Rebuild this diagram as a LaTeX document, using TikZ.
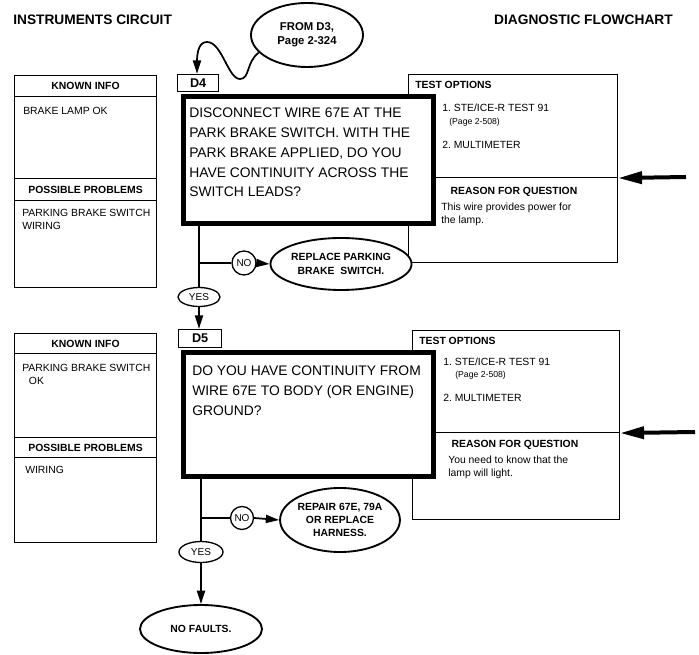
\documentclass[tikz,border=0pt]{standalone}
\usepackage{fontspec}
\setmainfont{Liberation Sans}
\usetikzlibrary{arrows.meta,shapes.geometric,positioning}
\newlength{\px}\setlength{\px}{0.75pt}
\tikzset{
  titletxt/.style={font=\fontsize{10.3}{12}\selectfont\bfseries, inner sep=0},
  smalltxt/.style={font=\fontsize{7.8}{9.6}\selectfont, inner sep=0, align=left},
  smallbold/.style={font=\fontsize{7.8}{9.6}\selectfont\bfseries, inner sep=0},
  tinytxt/.style={font=\fontsize{6.5}{7.5}\selectfont, inner sep=0},
  qtxt/.style={font=\fontsize{10.4}{14.8}\selectfont, inner sep=0, align=left, anchor=north west},
  infobox/.style={draw, line width=0.8pt, minimum width=142\px, inner sep=0, anchor=north west, font=\fontsize{7.8}{9.6}\selectfont\bfseries},
  testbox/.style={draw, line width=0.8pt, inner sep=0, anchor=north west},
  qbox/.style={draw, line width=5\px, fill=white, inner sep=0, anchor=north west, minimum width=250\px},
  dlabel/.style={draw, line width=0.9pt, fill=white, inner sep=0, anchor=south west, minimum height=17\px, font=\fontsize{9.5}{11}\selectfont\bfseries},
  ansnode/.style={draw, line width=1pt, fill=white, inner sep=0, font=\fontsize{7.5}{9}\selectfont},
  endnode/.style={draw, ellipse, line width=1.4pt, fill=white, inner sep=0, align=center, font=\fontsize{7.8}{10}\selectfont\bfseries},
  flow/.style={line width=1.3pt},
  flowarrow/.style={flow, -{Triangle[length=10pt,width=6pt]}},
  sidearrow/.style={line width=3pt, -{Triangle[length=18pt,width=9pt]}}
}
\begin{document}
\begin{tikzpicture}[x=1\px, y=-1\px]
  \useasboundingbox (0,0) rectangle (699,655);

  % Titles
  \node[titletxt, anchor=west] (ttl) at (13,20) {INSTRUMENTS CIRCUIT};
  \node[titletxt, anchor=east] (ttr) at (673,20) {DIAGNOSTIC FLOWCHART};

  % Entry from D3
  \node[endnode, minimum width=112\px, minimum height=64\px, font=\fontsize{8.5}{10.5}\selectfont\bfseries] (from) at (307,35) {FROM D3,\\Page 2-324};

  % Known info D4
  \node[infobox, minimum height=21\px] (ki4) at (14,75) {KNOWN INFO};
  \node[infobox, minimum height=82\px] (kb4) at (14,96) {};
  \node[infobox, minimum height=22\px] (pp4) at (14,178) {POSSIBLE PROBLEMS};
  \node[infobox, minimum height=87\px] (pb4) at (14,200) {};
  \node[smalltxt, anchor=west] (kt4) at (23,111) {BRAKE LAMP OK};
  \node[smalltxt, anchor=north west] (pt4) at (22,209) {PARKING BRAKE SWITCH\\WIRING};

  % Test options D4
  \node[testbox, minimum width=209\px, minimum height=103\px] (to4) at (408,74) {};
  \node[testbox, minimum width=209\px, minimum height=85\px] (rq4) at (408,177) {};
  \node[smallbold, anchor=west] (th4) at (415,85) {TEST OPTIONS};
  \node[smalltxt, anchor=west] (t41) at (442,108) {1.\ STE/ICE-R TEST 91};
  \node[tinytxt, anchor=west] (t4p) at (449,122) {(Page 2-508)};
  \node[smalltxt, anchor=west] (t42) at (442,145) {2.\ MULTIMETER};
  \node[smallbold] (rh4) at (514,192) {REASON FOR QUESTION};
  \node[smalltxt, anchor=north west] (rt4) at (441,203) {This wire provides power for\\the lamp.};

  % Question D4
  \node[qbox, minimum height=127\px] (q4) at (180.5,94.5) {};
  \node[qtxt] (qt4) at (189,108) {DISCONNECT WIRE 67E AT THE\\PARK BRAKE SWITCH. WITH THE\\PARK BRAKE APPLIED, DO YOU\\HAVE CONTINUITY ACROSS THE\\SWITCH LEADS?};
  \node[dlabel, minimum width=41\px] (d4) at (177,92) {D4};

  \draw[flowarrow] (from.200) .. controls (246,62) and (250,79) .. (240,79)
    .. controls (228,79) and (222,42) .. (207,42)
    .. controls (199,42) and (197,52) .. (197,62) -- (d4.north -| 197,0);

  \coordinate (in4) at (686,177);
  \draw[sidearrow] (in4) -- (to4.south east);

  % Answers D4
  \node[ansnode, ellipse, minimum width=42\px, minimum height=19\px] (yes4) at (199,297) {YES};
  \node[ansnode, circle, minimum size=24\px] (no4) at (244,263) {NO};
  \node[endnode, minimum width=114\px, minimum height=52\px] (fix4) at (341,264) {REPLACE PARKING\\BRAKE\ \ SWITCH.};
  \draw[flow] (q4.south -| yes4) -- (yes4.north);
  \draw[flow] (yes4 |- no4) -- (no4.west);
  \draw[flowarrow] (no4.east) -- (fix4.west);

  % Known info D5
  \node[infobox, minimum height=20\px] (ki5) at (14,333) {KNOWN INFO};
  \node[infobox, minimum height=84\px] (kb5) at (14,353) {};
  \node[infobox, minimum height=20\px] (pp5) at (14,437) {POSSIBLE PROBLEMS};
  \node[infobox, minimum height=85\px] (pb5) at (14,457) {};
  \node[smalltxt, anchor=north west] (kt5) at (22,364) {PARKING BRAKE SWITCH\\\hspace*{5pt}OK};
  \node[smalltxt, anchor=west] (pt5) at (25,470) {WIRING};

  % Test options D5
  \node[testbox, minimum width=207\px, minimum height=102\px] (to5) at (412,330) {};
  \node[testbox, minimum width=207\px, minimum height=87\px] (rq5) at (412,432) {};
  \node[smallbold, anchor=west] (th5) at (419,341) {TEST OPTIONS};
  \node[smalltxt, anchor=west] (t51) at (443,362) {1.\ STE/ICE-R TEST 91};
  \node[tinytxt, anchor=west] (t5p) at (455,375) {(Page 2-508)};
  \node[smalltxt, anchor=west] (t52) at (443,398) {2.\ MULTIMETER};
  \node[smallbold] (rh5) at (515,445) {REASON FOR QUESTION};
  \node[smalltxt, anchor=north west] (rt5) at (448,456) {You need to know that the\\lamp will light.};

  % Question D5
  \node[qbox, minimum height=123\px] (q5) at (180.5,350.5) {};
  \node[qtxt] (qt5) at (192,366) {DO YOU HAVE CONTINUITY FROM\\WIRE 67E TO BODY (OR ENGINE)\\GROUND?};
  \node[dlabel, minimum width=43\px, minimum height=18\px] (d5) at (178,348) {D5};

  \draw[flowarrow] (yes4.south) -- (d5.north -| yes4);

  \coordinate (in5) at (695,432);
  \draw[sidearrow] (in5) -- (to5.south east);

  % Answers D5
  \node[ansnode, ellipse, minimum width=44\px, minimum height=21\px] (yes5) at (201,552) {YES};
  \node[ansnode, circle, minimum size=23\px] (no5) at (242,518) {NO};
  \node[endnode, minimum width=114\px, minimum height=64\px] (fix5) at (340,520) {REPAIR 67E, 79A\\OR REPLACE\\HARNESS.};
  \node[endnode, minimum width=122\px, minimum height=48\px] (nf) at (201,629) {NO FAULTS.};
  \draw[flow] (q5.south -| yes5) -- (yes5.north);
  \draw[flow] (yes5 |- no5) -- (no5.west);
  \draw[flowarrow] (no5.east) -- (fix5.west);
  \draw[flowarrow] (yes5.south) -- (nf.north);
\end{tikzpicture}
\end{document}
